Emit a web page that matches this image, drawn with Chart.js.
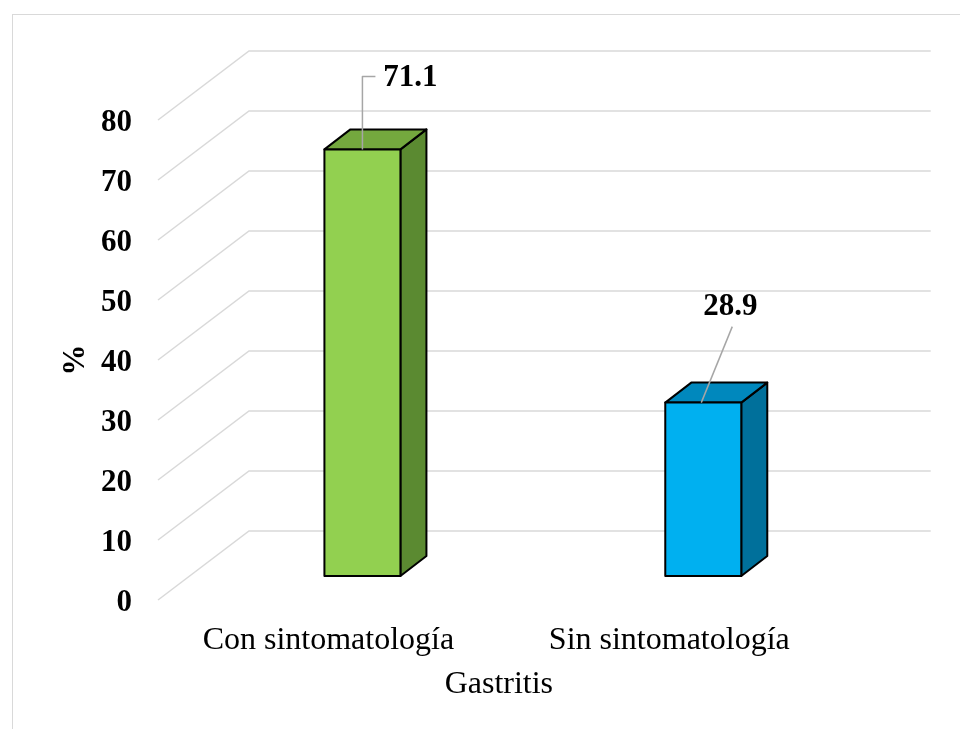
<!DOCTYPE html>
<html>
<head>
<meta charset="utf-8">
<title>Gastritis</title>
<script src="https://cdn.jsdelivr.net/npm/chart.js@4/dist/chart.umd.min.js"></script>
<style>
  html, body { margin: 0; padding: 0; background: #ffffff; }
  #wrap { position: relative; width: 960px; height: 729px; }
</style>
</head>
<body>
<div id="wrap"><canvas id="chart" width="960" height="729"></canvas></div>
<script>
// Chart data
const categories = ['Con sintomatología', 'Sin sintomatología'];
const percentValues = [71.1, 28.9];
const yTickValues = [0, 10, 20, 30, 40, 50, 60, 70, 80];
const axisTitleX = 'Gastritis';
const axisTitleY = '%';

// Face colours of each box: front, top, side
const frontColors = ['#92D050', '#00B0F0'];
const topColors = ['#74A83E', '#0088BD'];
const sideColors = ['#5B8A31', '#00709B'];

const SERIF = "'Times New Roman', 'Liberation Serif', serif";

// 3D geometry (pixels): back wall depth, bar set-back and bar depth
const WALL_DX = 91, WALL_DY = -69;
const BAR_DX = 34, BAR_DY = -24;
const BOX_DX = 26, BOX_DY = -20;

// Leader line and label placement relative to each bar's top front centre
const leaderPaths = [
  [[0, 0], [0, -73], [13, -73]],
  [[-2, 0], [29, -76]]
];
const labelOffsets = [[48, -71], [27, -96]];

const pseudo3d = {
  id: 'pseudo3d',
  beforeDraw(chart) {
    const ctx = chart.ctx;
    ctx.save();
    ctx.fillStyle = '#ffffff';
    ctx.fillRect(0, 0, chart.width, chart.height);
    ctx.strokeStyle = '#d9d9d9';
    ctx.lineWidth = 1;
    ctx.strokeRect(12.5, 14.5, 2000, 2000);
    ctx.restore();
  },
  beforeDatasetsDraw(chart) {
    const ctx = chart.ctx;
    const ys = chart.scales.y;
    const area = chart.chartArea;
    ctx.save();
    ctx.strokeStyle = '#d9d9d9';
    ctx.lineWidth = 1.5;
    yTickValues.forEach(v => {
      const yf = ys.getPixelForValue(v);
      ctx.beginPath();
      ctx.moveTo(area.left, yf);
      ctx.lineTo(area.left + WALL_DX, yf + WALL_DY);
      ctx.lineTo(area.right + WALL_DX, yf + WALL_DY);
      ctx.stroke();
    });
    ctx.restore();
  },
  afterDatasetsDraw(chart) {
    const ctx = chart.ctx;
    const meta = chart.getDatasetMeta(0);
    ctx.save();
    ctx.lineJoin = 'round';
    meta.data.forEach((el, i) => {
      const p = el.getProps(['x', 'y', 'base', 'width'], true);
      const x0 = p.x - p.width / 2 + BAR_DX;
      const x1 = p.x + p.width / 2 + BAR_DX;
      const yt = p.y + BAR_DY;
      const yb = p.base + BAR_DY;
      ctx.strokeStyle = '#000000';
      ctx.lineWidth = 2;
      // side face
      ctx.beginPath();
      ctx.moveTo(x1, yt);
      ctx.lineTo(x1 + BOX_DX, yt + BOX_DY);
      ctx.lineTo(x1 + BOX_DX, yb + BOX_DY);
      ctx.lineTo(x1, yb);
      ctx.closePath();
      ctx.fillStyle = sideColors[i];
      ctx.fill();
      ctx.stroke();
      // top face
      ctx.beginPath();
      ctx.moveTo(x0, yt);
      ctx.lineTo(x0 + BOX_DX, yt + BOX_DY);
      ctx.lineTo(x1 + BOX_DX, yt + BOX_DY);
      ctx.lineTo(x1, yt);
      ctx.closePath();
      ctx.fillStyle = topColors[i];
      ctx.fill();
      ctx.stroke();
      // front face
      ctx.beginPath();
      ctx.rect(x0, yt, x1 - x0, yb - yt);
      ctx.fillStyle = frontColors[i];
      ctx.fill();
      ctx.stroke();

      // leader line and value label
      const cx = (x0 + x1) / 2;
      ctx.strokeStyle = '#a6a6a6';
      ctx.lineWidth = 1.5;
      ctx.beginPath();
      leaderPaths[i].forEach(([dx, dy], k) => {
        if (k === 0) ctx.moveTo(cx + dx, yt + dy);
        else ctx.lineTo(cx + dx, yt + dy);
      });
      ctx.stroke();
      ctx.fillStyle = '#000000';
      ctx.font = 'bold 31px ' + SERIF;
      ctx.textAlign = 'center';
      ctx.textBaseline = 'middle';
      ctx.fillText(percentValues[i].toFixed(1), cx + labelOffsets[i][0], yt + labelOffsets[i][1]);
    });
    ctx.restore();
  }
};

new Chart(document.getElementById('chart'), {
  type: 'bar',
  data: {
    labels: categories,
    datasets: [{
      data: percentValues,
      backgroundColor: 'rgba(0,0,0,0)',
      borderWidth: 0,
      categoryPercentage: 1,
      barPercentage: 0.223
    }]
  },
  options: {
    responsive: false,
    animation: false,
    devicePixelRatio: 1,
    layout: { padding: { top: 120, right: 120.3, left: 0, bottom: 0 } },
    plugins: { legend: { display: false }, tooltip: { enabled: false } },
    scales: {
      x: {
        grid: { display: false, drawTicks: false },
        border: { display: false },
        ticks: { color: '#000000', font: { family: SERIF, size: 32 }, padding: 21, maxRotation: 0 },
        title: { display: true, text: axisTitleX, color: '#000000', font: { family: SERIF, size: 32 }, padding: { top: 0, bottom: 25 } },
        afterFit(scale) { scale.height = 129; }
      },
      y: {
        min: 0,
        max: 80,
        grid: { display: false, drawTicks: false },
        border: { display: false },
        afterBuildTicks(scale) { scale.ticks = yTickValues.map(v => ({ value: v })); },
        ticks: { color: '#000000', font: { family: SERIF, size: 31, weight: 'bold' }, padding: 26, labelOffset: 3 },
        title: { display: true, text: axisTitleY, color: '#000000', font: { family: SERIF, size: 31, weight: 'bold' }, padding: { top: 57, bottom: 0 } },
        afterFit(scale) { scale.width = 158; }
      }
    }
  },
  plugins: [pseudo3d]
});
</script>
</body>
</html>
